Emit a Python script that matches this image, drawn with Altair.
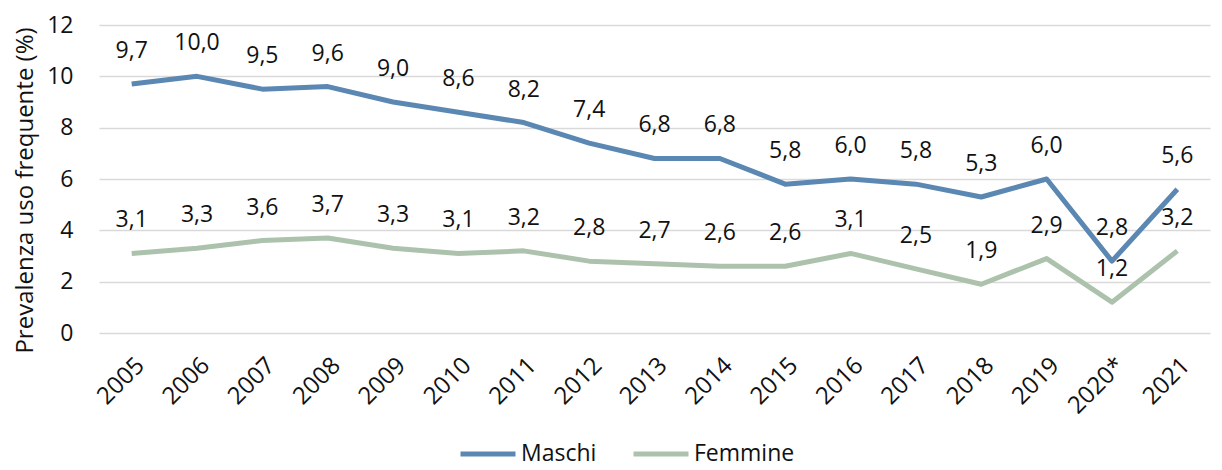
import altair as alt
import pandas as pd

anni = ["2005", "2006", "2007", "2008", "2009", "2010", "2011", "2012", "2013",
        "2014", "2015", "2016", "2017", "2018", "2019", "2020*", "2021"]
maschi = [9.7, 10.0, 9.5, 9.6, 9.0, 8.6, 8.2, 7.4, 6.8, 6.8, 5.8, 6.0, 5.8, 5.3, 6.0, 2.8, 5.6]
femmine = [3.1, 3.3, 3.6, 3.7, 3.3, 3.1, 3.2, 2.8, 2.7, 2.6, 2.6, 3.1, 2.5, 1.9, 2.9, 1.2, 3.2]
serie = ["Maschi", "Femmine"]
colori = ["#5b87b3", "#adc2ad"]

rows = []
for a, m, f in zip(anni, maschi, femmine):
    rows.append({"anno": a, "sesso": "Maschi", "valore": m})
    rows.append({"anno": a, "sesso": "Femmine", "valore": f})
df = pd.DataFrame(rows)
df["etichetta"] = df["valore"].map(lambda v: f"{v:.1f}".replace(".", ","))

FONT = "Open Sans"
FS = 23

x = alt.X("anno:N", sort=anni, title=None,
          axis=alt.Axis(labelAngle=-45, labelAlign="right", labelBaseline="top",
                        labelPadding=20, ticks=False, domain=False, grid=False,
                        labelFont=FONT, labelFontSize=FS + 1, labelColor="#111111"))
y = alt.Y("valore:Q", title="Prevalenza uso frequente (%)",
          scale=alt.Scale(domain=[0, 12], nice=False),
          axis=alt.Axis(values=[0, 2, 4, 6, 8, 10, 12], ticks=False, domain=False,
                        labelPadding=26, gridColor="#d9d9d9", gridWidth=1.5,
                        labelFont=FONT, labelFontSize=FS, labelColor="#111111",
                        titleFont=FONT, titleFontSize=FS + 1, titleFontWeight="normal",
                        titleColor="#111111", titlePadding=9, titleY=165))

color = alt.Color("sesso:N", scale=alt.Scale(domain=serie, range=colori), title=None,
                  legend=alt.Legend(orient="none", legendX=359, legendY=399,
                                    direction="horizontal", symbolType="stroke",
                                    symbolSize=3025, symbolStrokeWidth=5,
                                    labelFont=FONT, labelFontSize=FS, labelColor="#111111",
                                    labelOffset=3, columnPadding=26))

base = alt.Chart(df)
lines = base.mark_line(strokeWidth=5, strokeCap="butt", strokeJoin="round").encode(
    x=x, y=y, color=color, detail="sesso:N")
labels = base.mark_text(font=FONT, fontSize=FS, color="#111111", baseline="alphabetic",
                        dy=-26).encode(x=x, y=y, text="etichetta:N")

chart = (lines + labels).properties(
    width=1111, height=308,
    autosize=alt.AutoSizeParams(type="none"),
    padding={"left": 91, "top": 17, "right": 4, "bottom": 137},
).configure_view(stroke=None)

chart.save("out.html", embed_options={"renderer": "svg", "actions": False})
